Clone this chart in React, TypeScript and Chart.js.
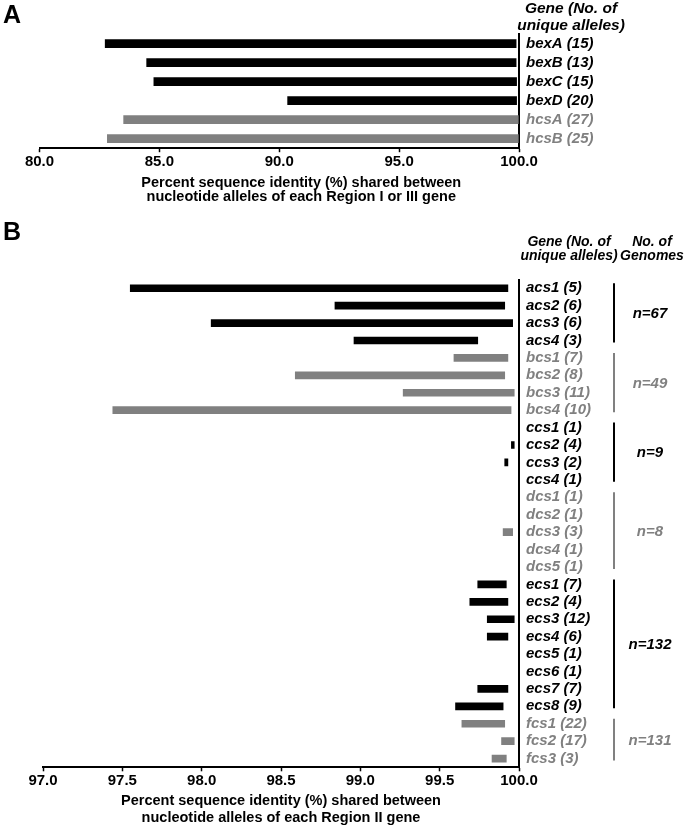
import React, { useEffect, useRef } from 'react';
import { Chart, registerables } from 'chart.js';

Chart.register(...registerables);

const FONT = "'Liberation Sans', Arial, Helvetica, sans-serif";
const BLACK = '#000000';
const GREY = '#808080';

// ---------- Panel A: Region I / III genes ----------
const A_GENES = ['bexA', 'bexB', 'bexC', 'bexD', 'hcsA', 'hcsB'];
const A_ALLELES = [15, 13, 15, 20, 27, 25];
const A_MIN = [82.74, 84.47, 84.77, 90.35, 83.51, 82.83];
const A_MAX = [99.88, 99.88, 99.9, 99.9, 99.97, 99.97];
const A_GREY = [false, false, false, false, true, true];
const A_X_MIN = 80;
const A_X_MAX = 100;
const A_X_STEP = 5;
const A_TITLE = [
  'Percent sequence identity (%) shared between',
  'nucleotide alleles of each Region I or III gene',
];

// ---------- Panel B: Region II genes ----------
const B_GENES = [
  'acs1', 'acs2', 'acs3', 'acs4',
  'bcs1', 'bcs2', 'bcs3', 'bcs4',
  'ccs1', 'ccs2', 'ccs3', 'ccs4',
  'dcs1', 'dcs2', 'dcs3', 'dcs4', 'dcs5',
  'ecs1', 'ecs2', 'ecs3', 'ecs4', 'ecs5', 'ecs6', 'ecs7', 'ecs8',
  'fcs1', 'fcs2', 'fcs3',
];
const B_ALLELES = [
  5, 6, 6, 3,
  7, 8, 11, 10,
  1, 4, 2, 1,
  1, 1, 3, 1, 1,
  7, 4, 12, 6, 1, 1, 7, 9,
  22, 17, 3,
];
const B_MIN = [
  97.55, 98.84, 98.06, 98.96,
  99.59, 98.59, 99.27, 97.44,
  null, 99.952, 99.91, null,
  null, null, 99.9, null, null,
  99.74, 99.69, 99.8, 99.8, null, null, 99.74, 99.6,
  99.64, 99.89, 99.83,
];
const B_MAX = [
  99.93, 99.91, 99.96, 99.74,
  99.93, 99.91, 99.97, 99.95,
  null, 99.97, 99.93, null,
  null, null, 99.96, null, null,
  99.92, 99.93, 99.97, 99.93, null, null, 99.93, 99.9,
  99.91, 99.97, 99.92,
];
const B_GROUPS = ['acs', 'bcs', 'ccs', 'dcs', 'ecs', 'fcs'];
const B_GROUP_N = [67, 49, 9, 8, 132, 131];
const B_GROUP_GREY = [false, true, false, true, false, true];
const B_X_MIN = 97;
const B_X_MAX = 100;
const B_X_STEP = 0.5;
const B_TITLE = [
  'Percent sequence identity (%) shared between',
  'nucleotide alleles of each Region II gene',
];

const W = 685;
const A_H = 205;
const B_H = 622;

function groupIndexOf(gene: string) {
  return B_GROUPS.indexOf(gene.slice(0, 3));
}
const B_GREY = B_GENES.map((g) => B_GROUP_GREY[groupIndexOf(g)]);

function makeOptions(opts: {
  xMin: number; xMax: number; xStep: number; title: string[]; showTitle: boolean;
  greys: boolean[]; left: number; top: number; rightWidth: number;
  bottomHeight: number; titleLineHeight: number; titlePadBottom: number;
}) {
  return {
    indexAxis: 'y' as const,
    responsive: false,
    animation: false as const,
    maintainAspectRatio: false,
    layout: { padding: { left: opts.left, top: opts.top, right: 0, bottom: 0 } },
    plugins: { legend: { display: false }, tooltip: { enabled: false }, title: { display: false } },
    scales: {
      x: {
        type: 'linear' as const,
        position: 'bottom' as const,
        min: opts.xMin,
        max: opts.xMax,
        afterFit: (scale: any) => { scale.height = opts.bottomHeight; },
        ticks: {
          stepSize: opts.xStep,
          autoSkip: false,
          maxRotation: 0,
          padding: 1,
          color: BLACK,
          font: { family: FONT, size: 15, weight: 'bold' as const },
          callback: (v: any) => Number(v).toFixed(1),
        },
        grid: {
          display: true,
          drawOnChartArea: false,
          drawTicks: true,
          tickLength: 4,
          tickColor: BLACK,
          tickWidth: 1.5,
          color: BLACK,
        },
        border: { display: true, color: BLACK, width: 2 },
        title: {
          display: opts.showTitle,
          text: opts.title,
          color: BLACK,
          font: { family: FONT, size: 14.5, weight: 'bold' as const, lineHeight: opts.titleLineHeight },
          padding: { top: 0, bottom: opts.titlePadBottom },
        },
      },
      y: {
        type: 'category' as const,
        position: 'right' as const,
        offset: true,
        afterFit: (scale: any) => { scale.width = opts.rightWidth; },
        ticks: {
          autoSkip: false,
          padding: 7,
          color: (c: any) => (opts.greys[c.index] ? GREY : BLACK),
          font: { family: FONT, size: 15, weight: 'bold' as const, style: 'italic' as const },
        },
        grid: { display: false, drawTicks: false },
        border: { display: true, color: BLACK, width: 2 },
      },
    },
  };
}

const panelAPlugin = {
  id: 'panelADecor',
  afterDraw(chart: any) {
    const ctx = chart.ctx;
    const { left, right } = chart.chartArea;
    ctx.save();
    ctx.fillStyle = BLACK;
    ctx.font = `bold 25px ${FONT}`;
    ctx.textAlign = 'left';
    ctx.textBaseline = 'alphabetic';
    ctx.fillText('A', 3, 23);
    ctx.font = `italic bold 15.5px ${FONT}`;
    ctx.textAlign = 'center';
    ctx.textBaseline = 'middle';
    ctx.fillText('Gene (No. of', right + 52, 9);
    ctx.fillText('unique alleles)', right + 52, 25.5);
    // axis title (offset to the right as in the original figure)
    ctx.font = `bold 14.5px ${FONT}`;
    const cx = (left + right) / 2 + 22;
    ctx.fillText(A_TITLE[0], cx, 182.5);
    ctx.fillText(A_TITLE[1], cx, 197);
    ctx.restore();
  },
};

const panelBPlugin = {
  id: 'panelBDecor',
  afterDraw(chart: any) {
    const ctx = chart.ctx;
    const right = chart.chartArea.right;
    const yScale = chart.scales.y;
    ctx.save();
    ctx.fillStyle = BLACK;
    ctx.font = `bold 25px ${FONT}`;
    ctx.textAlign = 'left';
    ctx.textBaseline = 'alphabetic';
    ctx.fillText('B', 3, 35);
    ctx.font = `italic bold 14px ${FONT}`;
    ctx.textAlign = 'center';
    ctx.textBaseline = 'middle';
    ctx.fillText('Gene (No. of', right + 50, 37);
    ctx.fillText('unique alleles)', right + 50, 51);
    ctx.fillText('No. of', right + 133, 37);
    ctx.fillText('Genomes', right + 133, 51);

    B_GROUPS.forEach((g, gi) => {
      const idx = B_GENES.map((n, i) => (n.startsWith(g) ? i : -1)).filter((i) => i >= 0);
      const first = idx[0];
      const last = idx[idx.length - 1];
      const y1 = yScale.getPixelForValue(first) - 5;
      const y2 = yScale.getPixelForValue(last) + 2;
      const color = B_GROUP_GREY[gi] ? GREY : BLACK;
      ctx.strokeStyle = color;
      ctx.lineWidth = 2;
      ctx.beginPath();
      ctx.moveTo(right + 95, y1);
      ctx.lineTo(right + 95, y2);
      ctx.stroke();
      ctx.fillStyle = color;
      ctx.font = `italic bold 15px ${FONT}`;
      ctx.fillText(`n=${B_GROUP_N[gi]}`, right + 131, (y1 + y2) / 2 + 1);
    });
    ctx.restore();
  },
};

export default function App() {
  const refA = useRef<HTMLCanvasElement | null>(null);
  const refB = useRef<HTMLCanvasElement | null>(null);

  useEffect(() => {
    const chartA = new Chart(refA.current as HTMLCanvasElement, {
      type: 'bar',
      data: {
        labels: A_GENES.map((g, i) => `${g} (${A_ALLELES[i]})`),
        datasets: [
          {
            data: A_GENES.map((_, i) => [A_MIN[i], A_MAX[i]]) as any,
            backgroundColor: A_GREY.map((g) => (g ? GREY : BLACK)),
            borderWidth: 0,
            borderSkipped: false,
            barThickness: 8,
          },
        ],
      },
      options: makeOptions({
        xMin: A_X_MIN, xMax: A_X_MAX, xStep: A_X_STEP, title: A_TITLE, showTitle: false, greys: A_GREY,
        left: 39.5, top: 34.2, rightWidth: W - 519, bottomHeight: A_H - 148.2,
        titleLineHeight: 15 / 14.5, titlePadBottom: 1,
      }) as any,
      plugins: [panelAPlugin],
    });

    const chartB = new Chart(refB.current as HTMLCanvasElement, {
      type: 'bar',
      data: {
        labels: B_GENES.map((g, i) => `${g} (${B_ALLELES[i]})`),
        datasets: [
          {
            data: B_GENES.map((_, i) =>
              B_MIN[i] == null ? null : [B_MIN[i], B_MAX[i]]
            ) as any,
            backgroundColor: B_GREY.map((g) => (g ? GREY : BLACK)),
            borderWidth: 0,
            borderSkipped: false,
            barThickness: 7,
          },
        ],
      },
      options: makeOptions({
        xMin: B_X_MIN, xMax: B_X_MAX, xStep: B_X_STEP, title: B_TITLE, showTitle: true, greys: B_GREY,
        left: 43, top: 74.5, rightWidth: W - 519, bottomHeight: B_H - 562.3,
        titleLineHeight: 16.6 / 14.5, titlePadBottom: 1,
      }) as any,
      plugins: [panelBPlugin],
    });

    return () => {
      chartA.destroy();
      chartB.destroy();
    };
  }, []);

  return (
    <div style={{ position: 'absolute', left: 0, top: 0, width: W, height: A_H + B_H, background: '#ffffff' }}>
      <canvas ref={refA} width={W} height={A_H} style={{ position: 'absolute', left: 0, top: 0, width: W, height: A_H }} />
      <canvas ref={refB} width={W} height={B_H} style={{ position: 'absolute', left: 0, top: A_H, width: W, height: B_H }} />
    </div>
  );
}
